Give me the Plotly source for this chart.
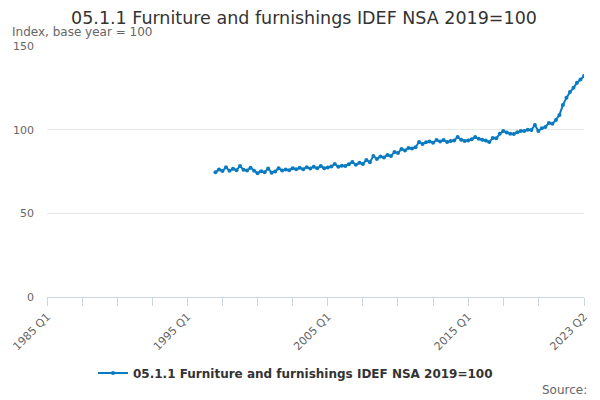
"""
Line chart: 05.1.1 Furniture and furnishings IDEF NSA (2019=100), quarterly.
"""

import plotly.graph_objects as go

FONT_FAMILY = "DejaVu Sans"
LINE_COLOR = "#0b7bc1"

SERIES_NAME = "05.1.1 Furniture and furnishings IDEF NSA 2019=100"

# Quarter labels 1985 Q1 .. 2023 Q2
QUARTERS = [f"{y} Q{q}" for y in range(1985, 2024) for q in range(1, 5)][:154]

# Index values from 1997 Q1 to 2023 Q2 (earlier quarters have no data)
FIRST_QUARTER = "1997 Q1"
VALUES = [
    74.6, 76.2, 75.3, 77.5,    # 1997
    75.4, 76.6, 75.8, 78.3,    # 1998
    76.0, 75.6, 77.2, 75.5,    # 1999
    74.0, 75.2, 74.6, 76.8,    # 2000
    74.3, 75.0, 76.9, 75.6,    # 2001
    76.2, 75.8, 77.0, 76.3,    # 2002
    77.2, 76.4, 77.6, 76.8,    # 2003
    77.9, 76.9, 78.3, 77.0,    # 2004
    77.4, 78.0, 79.5, 77.8,    # 2005
    78.4, 78.3, 79.4, 80.7,    # 2006
    79.0, 80.2, 79.5, 81.9,    # 2007
    80.6, 84.3, 82.5, 84.0,    # 2008
    83.4, 84.9, 84.2, 86.7,    # 2009
    86.0, 88.5, 87.6, 89.0,    # 2010
    88.8, 89.5, 92.6, 91.5,    # 2011
    92.5, 93.0, 92.2, 93.8,    # 2012
    93.0, 93.8, 92.6, 93.2,    # 2013
    93.5, 95.6, 94.0, 93.2,    # 2014
    93.6, 94.3, 95.6, 94.5,    # 2015
    94.0, 93.5, 92.6, 95.0,    # 2016
    94.8, 97.5, 99.2, 98.3,    # 2017
    97.6, 97.4, 98.5, 99.2,    # 2018
    99.2, 100.0, 99.8, 102.8,  # 2019
    99.2, 100.8, 101.6, 104.0, # 2020
    103.5, 105.8, 108.8, 114.8,  # 2021
    119.0, 122.5, 125.0, 128.0,  # 2022
    130.0, 132.0,              # 2023
]

Y_TICKS = [0, 50, 100, 150]
X_LABELS = ["1985 Q1", "1995 Q1", "2005 Q1", "2015 Q1", "2023 Q2"]

start = QUARTERS.index(FIRST_QUARTER)
x_data = QUARTERS[start:start + len(VALUES)]

# tick marks every 10 quarters plus the last one, labels only on a few
tick_vals = [QUARTERS[i] for i in range(0, 150, 10)] + [QUARTERS[-1]]
tick_text = [q if q in X_LABELS else "" for q in tick_vals]

# the page body has an 8px margin, so the figure is drawn 8px in from the corner
FIG_W, FIG_H = 592, 392
M_L, M_R, M_T, M_B = 39, 16, 38, 103
PLOT_W = FIG_W - M_L - M_R
PLOT_H = FIG_H - M_T - M_B

fig = go.Figure()
fig.add_trace(go.Scatter(
    x=x_data,
    y=VALUES,
    mode="lines+markers",
    name=SERIES_NAME,
    line=dict(color=LINE_COLOR, width=2),
    marker=dict(color=LINE_COLOR, size=4),
    showlegend=True,
))

fig.update_layout(
    width=FIG_W, height=FIG_H,
    font=dict(family=FONT_FAMILY, color="#666666", size=11),
    paper_bgcolor="white",
    plot_bgcolor="white",
    margin=dict(l=M_L, r=M_R, t=M_T, b=M_B, autoexpand=False),
    title=dict(
        text="05.1.1 Furniture and furnishings IDEF NSA 2019=100",
        x=0.5, xanchor="center", y=1 - 10 / FIG_H, yanchor="middle",
        font=dict(size=17.5, color="#333333"),
    ),
    showlegend=True,
    legend=dict(
        orientation="h",
        x=0.5 - 20 / PLOT_W, xanchor="center",
        yref="container", y=27 / FIG_H, yanchor="middle",
        font=dict(size=12, color="#333333", weight="bold"),
        itemwidth=30,
    ),
    annotations=[
        dict(text="Index, base year = 100", xref="paper", yref="paper",
             x=-37 / PLOT_W, y=1 + 14 / PLOT_H, xanchor="left", yanchor="middle",
             showarrow=False, font=dict(size=12, color="#666666")),
        dict(text="Source:", xref="paper", yref="paper",
             x=1 + 5 / PLOT_W, y=-93 / PLOT_H, xanchor="right", yanchor="middle",
             showarrow=False, font=dict(size=12, color="#666666")),
    ],
)

fig.update_xaxes(
    type="category",
    categoryorder="array", categoryarray=QUARTERS,
    range=[0, len(QUARTERS) - 1],
    tickmode="array", tickvals=tick_vals, ticktext=tick_text,
    tickangle=-45,
    ticks="outside", ticklen=8, tickcolor="#ccd6eb",
    showline=True, linecolor="#ccd6eb", linewidth=1,
    showgrid=False, zeroline=False,
    automargin=False,
    tickfont=dict(size=11, color="#666666"),
)
fig.update_yaxes(
    range=[0, 150],
    tickmode="array", tickvals=Y_TICKS,
    showgrid=True, gridcolor="#e6e6e6", gridwidth=1,
    zeroline=False, showline=False,
    ticks="", ticklabelstandoff=12,
    automargin=False,
    tickfont=dict(size=11, color="#666666"),
)

fig.write_html("out.html")
